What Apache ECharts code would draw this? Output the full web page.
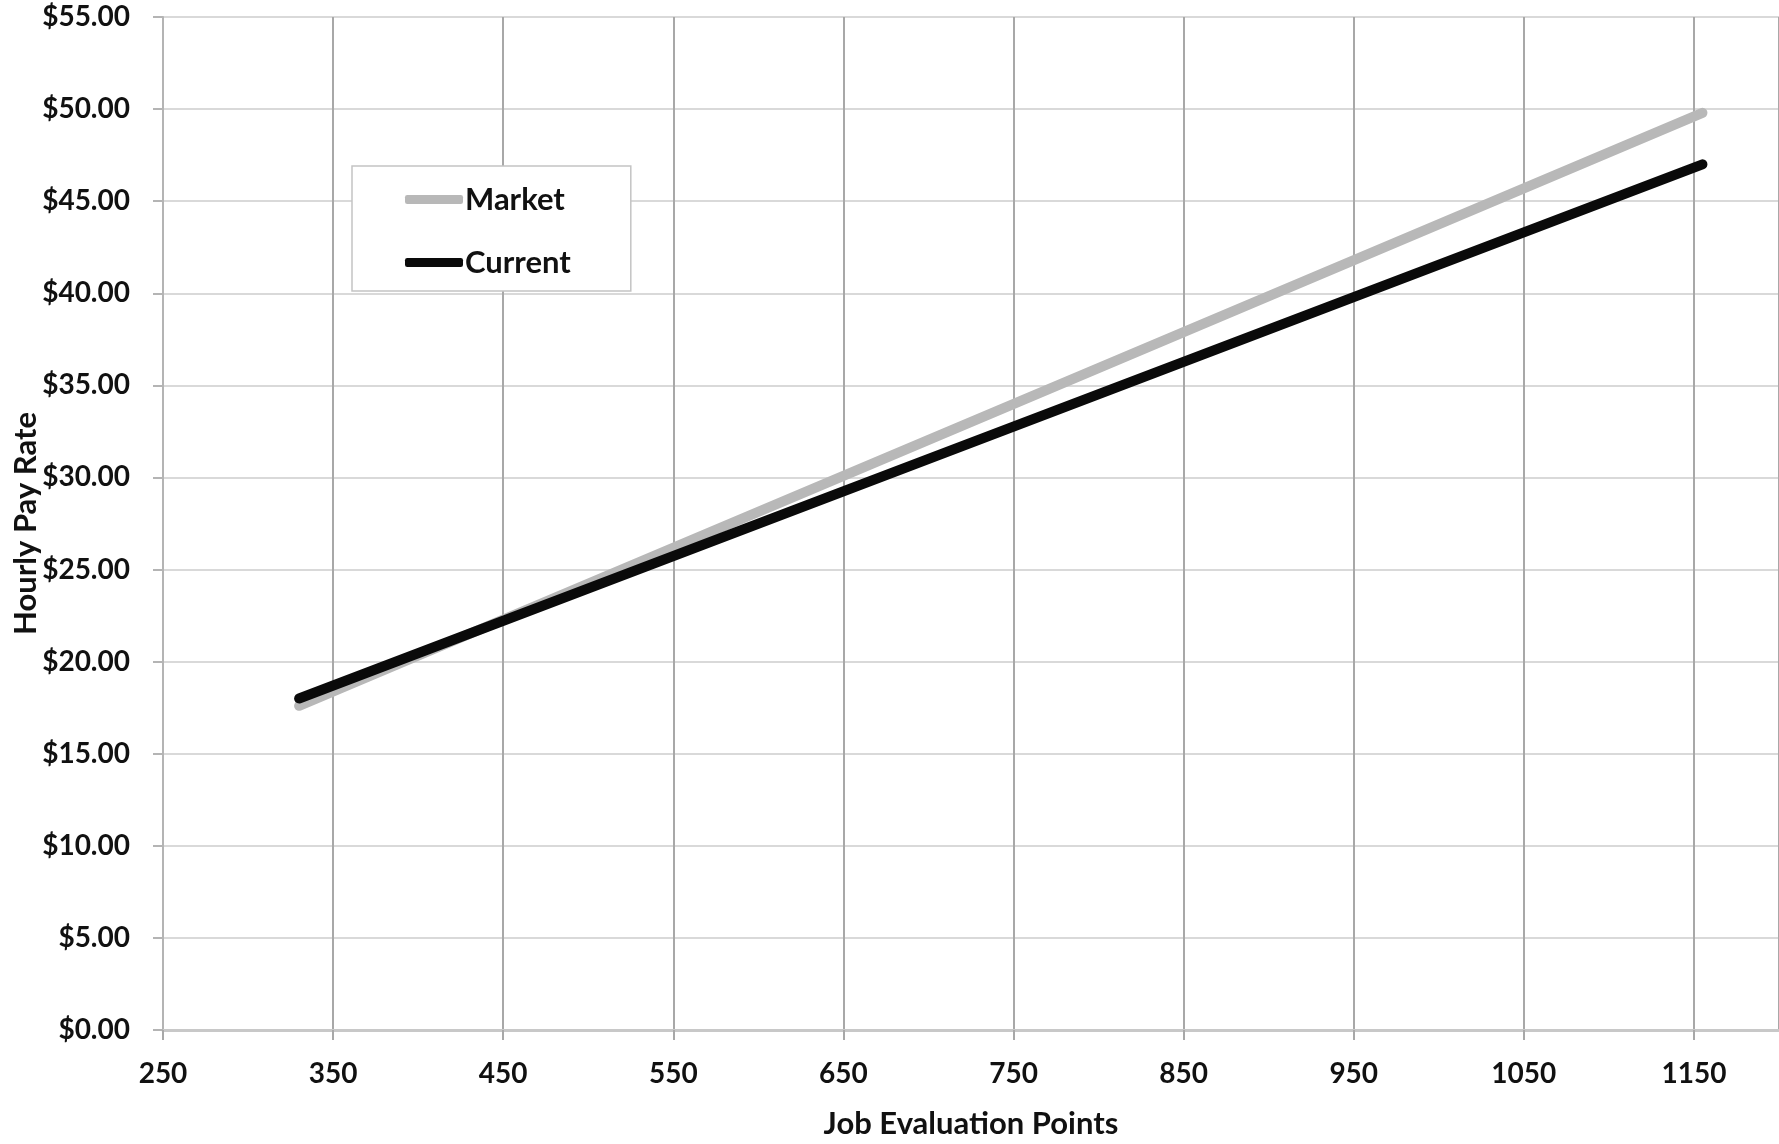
<!DOCTYPE html>
<html><head><meta charset="utf-8">
<script src="https://cdn.jsdelivr.net/npm/echarts@6/dist/echarts.min.js"></script>
<style>html,body{margin:0;padding:0;background:#fff;overflow:hidden}#c{width:1779px;height:1144px}</style>
</head><body><div id="c"></div>
<script>
const seriesNames = ['Market', 'Current'];
const marketPoints = [[330, 17.6], [1155, 49.8]];
const currentPoints = [[330, 18.0], [1155, 47.0]];
const xTicks = [250, 350, 450, 550, 650, 750, 850, 950, 1050, 1150];
const yTicks = [0, 5, 10, 15, 20, 25, 30, 35, 40, 45, 50, 55];

const FONT = 'Lato';
const chart = echarts.init(document.getElementById('c'));
chart.setOption({
  animation: false,
  backgroundColor: '#fff',
  grid: { left: 163, right: 0, top: 17, bottom: 114, containLabel: false, outerBoundsMode: 'none' },
  legend: {
    data: seriesNames,
    orient: 'vertical',
    left: 352, top: 166,
    padding: [18, 60, 13, 53],
    itemGap: 32,
    itemWidth: 58, itemHeight: 9,
    icon: 'roundRect',
    borderColor: '#c4c4c4', borderWidth: 1.5,
    backgroundColor: '#fff',
    textStyle: { fontFamily: FONT, fontWeight: 'bold', fontSize: 31, color: '#111', padding: [0, 0, 0, -3] }
  },
  xAxis: {
    type: 'value', min: 250, max: 1200, interval: 100,
    name: 'Job Evaluation Points', nameLocation: 'middle', nameGap: 78, nameMoveOverlap: false,
    nameTextStyle: { fontFamily: FONT, fontWeight: 'bold', fontSize: 31, color: '#111' },
    axisLine: { show: true, lineStyle: { color: '#c8c8c8', width: 3 } },
    axisTick: { show: true, length: 10, lineStyle: { color: '#a8a8a8', width: 2 } },
    axisLabel: { showMaxLabel: false, margin: 30, fontFamily: FONT, fontWeight: 'bold', fontSize: 28, color: '#111',
      formatter: v => xTicks.includes(v) ? String(v) : '' },
    splitLine: { show: true, lineStyle: { color: '#a8a8a8', width: 2 } }
  },
  yAxis: {
    type: 'value', min: 0, max: 55, interval: 5,
    name: 'Hourly Pay Rate', nameLocation: 'middle', nameGap: 122, nameRotate: 90, nameMoveOverlap: false,
    nameTextStyle: { fontFamily: FONT, fontWeight: 'bold', fontSize: 31, color: '#111' },
    axisLine: { show: true, lineStyle: { color: '#b4b4b4', width: 2 } },
    axisTick: { show: true, length: 10, lineStyle: { color: '#b4b4b4', width: 2 } },
    axisLabel: { margin: 33, fontFamily: FONT, fontWeight: 'bold', fontSize: 28, color: '#111',
      formatter: v => yTicks.includes(v) ? '$' + v.toFixed(2) : '' },
    splitLine: { show: true, lineStyle: { color: '#d9d9d9', width: 2 } }
  },
  series: [
    { name: seriesNames[0], type: 'line', data: marketPoints, showSymbol: false, symbol: 'none',
      lineStyle: { color: '#b8b8b8', width: 10, cap: 'round' }, itemStyle: { color: '#b8b8b8' } },
    { name: seriesNames[1], type: 'line', data: currentPoints, showSymbol: false, symbol: 'none',
      lineStyle: { color: '#0a0a0a', width: 10, cap: 'round' }, itemStyle: { color: '#0a0a0a' } }
  ]
});
</script></body></html>
